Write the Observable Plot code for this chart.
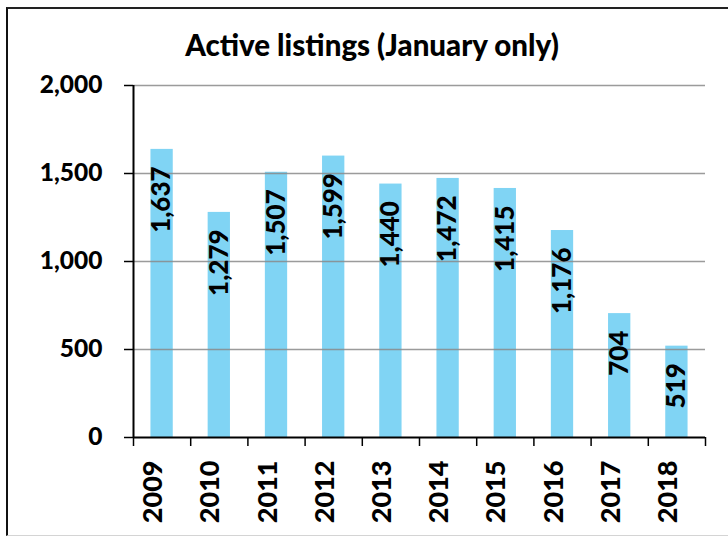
<!DOCTYPE html>
<html>
<head>
<meta charset="utf-8">
<script src="https://cdn.jsdelivr.net/npm/d3@7"></script>
<script src="https://cdn.jsdelivr.net/npm/@observablehq/plot@0.6"></script>
<style>
  html, body { margin: 0; padding: 0; background: #fff; }
  #wrap { position: relative; width: 728px; height: 536px; overflow: hidden; background: #fff; }
  #frame { position: absolute; left: 6px; top: 7px; width: 800px; height: 526px;
           border-left: 2px solid #111; border-top: 2px solid #222; border-bottom: 1px solid #d4d4d4; }
  #title { position: absolute; left: 372px; top: 28px; transform: translateX(-50%);
           font-family: Lato, sans-serif; font-weight: 900; font-size: 29.5px; line-height: 34px;
           white-space: nowrap; color: #000; }
  #chart { position: absolute; left: 0; top: 0; }
  #chart svg { font-family: Lato, sans-serif; }
</style>
</head>
<body>
<div id="wrap">
  <div id="frame"></div>
  <div id="chart"></div>
  <div id="title">Active listings (January only)</div>
</div>
<script>
const titleText = "Active listings (January only)";
const years = [2009, 2010, 2011, 2012, 2013, 2014, 2015, 2016, 2017, 2018];
const listings = [1637, 1279, 1507, 1599, 1440, 1472, 1415, 1176, 704, 519];
const yTicks = [0, 500, 1000, 1500, 2000];
const gridValues = [500, 1000, 1500, 2000];

document.getElementById("title").textContent = titleText;

const data = years.map((y, i) => ({year: y, value: listings[i]}));
const boundaries = [years[0] - 0.5, ...years.map(y => y + 0.5)];
const fmt = d3.format(",");
const half = 0.195;

const chart = Plot.plot({
  width: 728,
  height: 536,
  marginLeft: 133,
  marginRight: 23,
  marginTop: 85,
  marginBottom: 99,
  style: {background: "transparent", fontFamily: "Lato, sans-serif"},
  x: {domain: [boundaries[0], boundaries[boundaries.length - 1]]},
  y: {domain: [0, 2000]},
  marks: [
    Plot.rectY(data, {x1: d => d.year - half, x2: d => d.year + half, y1: 0, y2: "value", fill: "#80d4f4"}),
    Plot.ruleY(gridValues, {stroke: "#8a8a8a", strokeWidth: 1.6, strokeOpacity: 0.85}),
    Plot.axisY({ticks: yTicks, tickFormat: fmt, tickSize: 9, tickPadding: 22, stroke: "#000", strokeWidth: 1.5, strokeOpacity: 1,
                fontSize: 24.5, fontWeight: 900, fill: "#000", label: null}),
    Plot.axisX({ticks: boundaries, tickFormat: () => "", tickSize: 9, stroke: "#000", strokeWidth: 1.5, strokeOpacity: 1, label: null}),
    Plot.ruleY([0], {stroke: "#000", strokeWidth: 2}),
    Plot.ruleX([boundaries[0]], {y1: 0, y2: 2000, stroke: "#000", strokeWidth: 2}),
    Plot.text(data, {x: "year", y: "value", text: d => fmt(d.value), rotate: -90, textAnchor: "end", dy: 17,
                     fontSize: 26, fontWeight: 900, fill: "#000"}),
    Plot.text(years, {x: d => d, frameAnchor: "bottom", text: d => String(d), rotate: -90, textAnchor: "end", dy: 23,
                      fontSize: 27, fontWeight: 900, fill: "#000"})
  ]
});
document.getElementById("chart").appendChild(chart);
</script>
</body>
</html>
